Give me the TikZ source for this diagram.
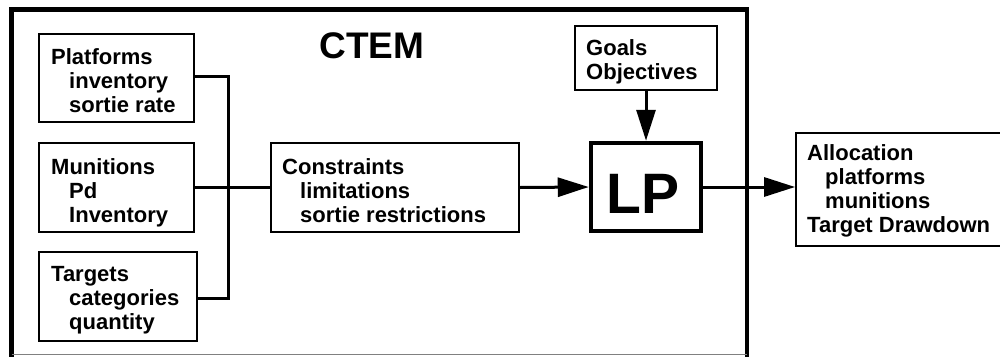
\documentclass[tikz,border=0pt]{standalone}
\usepackage{fontspec}
\setmainfont{Liberation Sans}
\usetikzlibrary{arrows.meta,positioning}

\tikzset{
  box/.style={draw, line width=1.8pt, rectangle, minimum width=#1, inner sep=0pt},
  label/.style={anchor=north west, inner sep=0pt, align=left,
                font=\fontsize{22}{24}\selectfont\bfseries},
  link/.style={line width=3pt},
  flow/.style={line width=3pt, -{Triangle[length=31pt,width=19pt]}},
}
\newcommand{\ind}{\hspace*{18pt}}

\begin{document}
\begin{tikzpicture}[x=1pt,y=-1pt]
  \useasboundingbox (0,0) rectangle (1000,356);
  \clip (0,0) rectangle (1000,356);

  % enclosing CTEM frame (open at the lower edge)
  \draw[line width=4.5pt] (11.5,365) -- (11.5,9.5) -- (747,9.5) -- (747,365);
  \draw[line width=1pt, gray] (11.5,354.5) -- (747,354.5);
  \node[anchor=base, inner sep=0pt, font=\fontsize{37}{40}\selectfont\bfseries] (ctem) at (372,58) {CTEM};

  % input boxes
  \node[box=155pt, minimum height=88pt] (plat) at (116.5,78) {};
  \node[box=155pt, minimum height=89pt] (mun)  at (116.5,187.5) {};
  \node[box=158pt, minimum height=89pt] (targ) at (118,296.5) {};
  \node[box=248pt, minimum height=89pt] (cons) at (395,187.5) {};
  \node[box=142pt, minimum height=64pt] (goal) at (646,58) {};
  \node[draw, line width=4.5pt, minimum width=110pt, minimum height=88pt, inner sep=0pt] (lp) at (646,187) {};
  \node[box=214pt, minimum height=113pt] (alloc) at (903,189.5) {};

  % box texts
  \node[label] (platT) at (51,47.2)  {\strut Platforms\\\ind inventory\\\ind sortie rate\strut};
  \node[label] (munT)  at (51,157.2) {\strut Munitions\\\ind Pd\\\ind Inventory\strut};
  \node[label] (targT) at (51,264.2) {\strut Targets\\\ind categories\\\ind quantity\strut};
  \node[label] (consT) at (282,157.2) {\strut Constraints\\\ind limitations\\\ind sortie restrictions\strut};
  \node[label, font=\fontsize{22}{22}\selectfont\bfseries] (goalT) at (586,39.6) {\strut Goals\\Objectives\strut};
  \node[label] (allocT) at (807,143.2) {\strut Allocation\\\ind platforms\\\ind munitions\\Target Drawdown\strut};
  \node[anchor=base, inner sep=0pt, font=\fontsize{57}{60}\selectfont\bfseries] (lpT) at (643,213) {LP};

  % connectors
  \coordinate (j) at (228,187);
  \draw[link] (plat.east |- 0,76) -| (j) |- (targ.east |- 0,298);
  \draw[link] (mun.east) -- (cons.west);
  \draw[flow] (cons.east) -- (lp.west);
  \draw[flow] (goal.south) -- (lp.north);
  \draw[flow] (lp.east) -- (alloc.west |- lp.east);
\end{tikzpicture}
\end{document}
